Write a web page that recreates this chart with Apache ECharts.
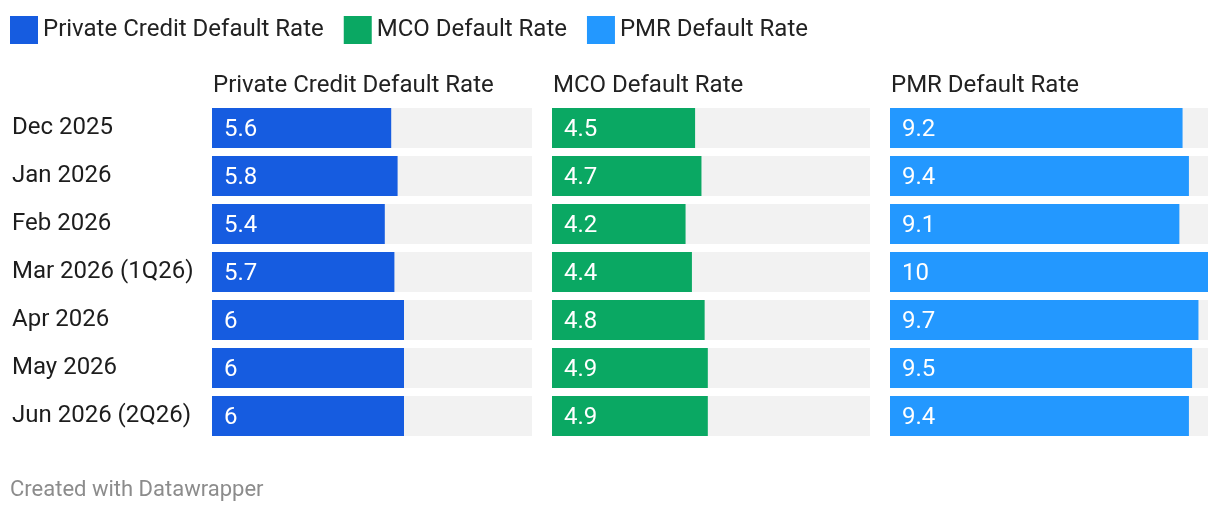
<!DOCTYPE html>
<html>
<head>
<meta charset="utf-8">
<script src="https://cdn.jsdelivr.net/npm/echarts@6/dist/echarts.min.js"></script>
<style>
  html, body { margin: 0; padding: 0; background: #fff; }
  #chart { width: 1220px; height: 512px; }
</style>
</head>
<body>
<div id="chart"></div>
<script>
// 数据
const months = ['Dec 2025', 'Jan 2026', 'Feb 2026', 'Mar 2026 (1Q26)', 'Apr 2026', 'May 2026', 'Jun 2026 (2Q26)'];
const privateCredit = [5.6, 5.8, 5.4, 5.7, 6, 6, 6];
const mcoRate = [4.5, 4.7, 4.2, 4.4, 4.8, 4.9, 4.9];
const pmrRate = [9.2, 9.4, 9.1, 10, 9.7, 9.5, 9.4];
const seriesNames = ['Private Credit Default Rate', 'MCO Default Rate', 'PMR Default Rate'];
const colors = ['#165ce0', '#0aa863', '#2398ff'];

(function() {
    const chart = echarts.init(document.getElementById('chart'));
    const font = 'Roboto, "Noto Sans", sans-serif';
    const fs = 24;
    const lefts = [212, 552, 890];
    const widths = [320, 318, 318];
    const values = [privateCredit, mcoRate, pmrRate];

    const grids = lefts.map((l, i) => ({ left: l, top: 104, width: widths[i], height: 336 }));

    const xAxes = lefts.map((l, i) => ({
        gridIndex: i, type: 'value', min: 0, max: 10, show: false
    }));

    const yAxes = lefts.map((l, i) => ({
        gridIndex: i,
        type: 'category',
        data: months,
        inverse: true,
        axisLine: { show: false },
        axisTick: { show: false },
        axisLabel: {
            show: i === 0,
            align: 'left',
            margin: 200,
            fontSize: fs,
            color: '#1d1d1d',
            fontFamily: font
        }
    }));

    const series = values.map((v, i) => ({
        name: seriesNames[i],
        type: 'bar',
        xAxisIndex: i,
        yAxisIndex: i,
        data: v,
        barWidth: 40,
        itemStyle: { color: colors[i] },
        showBackground: true,
        backgroundStyle: { color: '#f2f2f2' },
        label: {
            show: true,
            position: 'insideLeft',
            distance: 12,
            offset: [0, 2],
            color: '#fff',
            fontSize: fs,
            fontFamily: font
        }
    }));

    // 面板标题（title 自带 5px 内边距）
    const titles = lefts.map((l, i) => ({
        text: seriesNames[i],
        left: l - 4,
        top: 69,
        textStyle: { fontSize: fs, fontWeight: 'normal', color: '#222', fontFamily: font }
    }));
    titles.push({
        text: 'Created with Datawrapper',
        left: 5,
        top: 474,
        textStyle: { fontSize: 22, fontWeight: 'normal', color: '#8c8c8c', fontFamily: font }
    });

    chart.setOption({
        animation: false,
        title: titles,
        legend: {
            left: 5,
            top: 11,
            itemWidth: 28,
            itemHeight: 28,
            itemGap: 20,
            itemTextGap: 7,
            icon: 'rect',
            textStyle: { fontSize: fs, color: '#222', fontFamily: font },
            data: seriesNames
        },
        grid: grids,
        xAxis: xAxes,
        yAxis: yAxes,
        series: series
    });
})();
</script>
</body>
</html>
